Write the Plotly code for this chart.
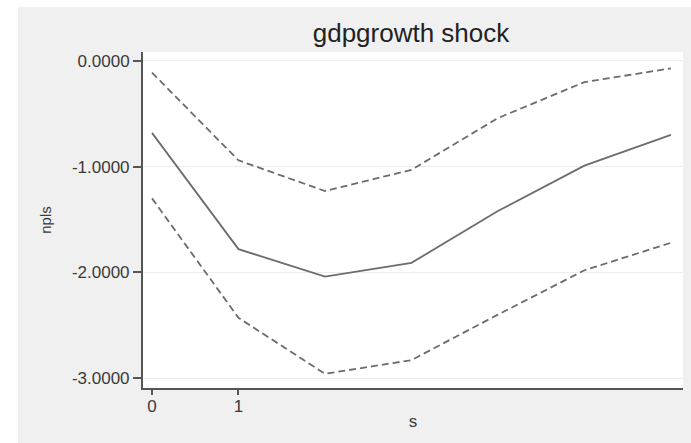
import plotly.graph_objects as go

steps = [0, 1, 2, 3, 4, 5, 6]
irf = [-0.68, -1.78, -2.04, -1.91, -1.42, -0.99, -0.70]
upper = [-0.11, -0.94, -1.23, -1.03, -0.54, -0.20, -0.07]
lower = [-1.30, -2.43, -2.96, -2.83, -2.40, -1.98, -1.72]
ytick_vals = [0, -1, -2, -3]
ytick_text = ["0.0000", "-1.0000", "-2.0000", "-3.0000"]
xtick_vals = [0, 1]
xtick_text = ["0", "1"]

W, H = 691, 443
L, R, T, B = 143, 8, 52, 55
pw, ph = W - L - R, H - T - B

line_col = "#6c6c6c"
fig = go.Figure()
fig.add_trace(go.Scatter(x=steps, y=upper, mode="lines",
                         line=dict(color=line_col, width=1.8, dash="7px,4px"), showlegend=False))
fig.add_trace(go.Scatter(x=steps, y=irf, mode="lines",
                         line=dict(color=line_col, width=1.8), showlegend=False))
fig.add_trace(go.Scatter(x=steps, y=lower, mode="lines",
                         line=dict(color=line_col, width=1.8, dash="7px,4px"), showlegend=False))

bg = "#f0f0f0"
# white strips on left and top edges (outside the grey graph region)
fig.add_shape(type="rect", xref="paper", yref="paper",
              x0=-L / pw, x1=(18 - L) / pw, y0=-B / ph, y1=(H - B) / ph,
              fillcolor="white", line_width=0, layer="below")
fig.add_shape(type="rect", xref="paper", yref="paper",
              x0=-L / pw, x1=(W - L) / pw, y0=(H - B - 7) / ph, y1=(H - B) / ph,
              fillcolor="white", line_width=0, layer="below")

tick_col = "#3a3a3a"
fig.update_layout(
    width=W, height=H,
    template="none",
    margin=dict(l=L, r=R, t=T, b=B),
    paper_bgcolor=bg, plot_bgcolor="white",
    font=dict(family="Liberation Sans, Arial, sans-serif", color=tick_col, size=17),
    title=dict(text="gdpgrowth shock", x=411 / W, xanchor="center",
               y=1 - 33 / H, yanchor="middle",
               font=dict(size=26, color="#222222")),
    showlegend=False,
)
fig.update_xaxes(range=[-0.104, 6.14], tickvals=xtick_vals, ticktext=xtick_text,
                 showgrid=False, zeroline=False, automargin=False,
                 showline=True, linecolor="#555555", linewidth=2,
                 ticks="outside", ticklen=5, tickcolor="#555555", tickwidth=1.5,
                 ticklabelstandoff=-3,
                 tickfont=dict(size=17, color=tick_col),
                 title=dict(text="s", standoff=0, font=dict(size=17, color=tick_col)))
fig.update_yaxes(range=[-3.094, 0.085], tickvals=ytick_vals, ticktext=ytick_text,
                 showgrid=True, gridcolor="#ededed", gridwidth=1, zeroline=False, automargin=False,
                 showline=True, linecolor="#555555", linewidth=2,
                 ticks="outside", ticklen=8, tickcolor="#555555", tickwidth=1.5,
                 tickfont=dict(size=17, color=tick_col),
                 title=dict(text="npls", standoff=17, font=dict(size=15, color=tick_col)))

fig.write_html("out.html", config={"displayModeBar": False},
               post_script="document.body.style.margin='0';document.body.style.overflow='hidden';")
